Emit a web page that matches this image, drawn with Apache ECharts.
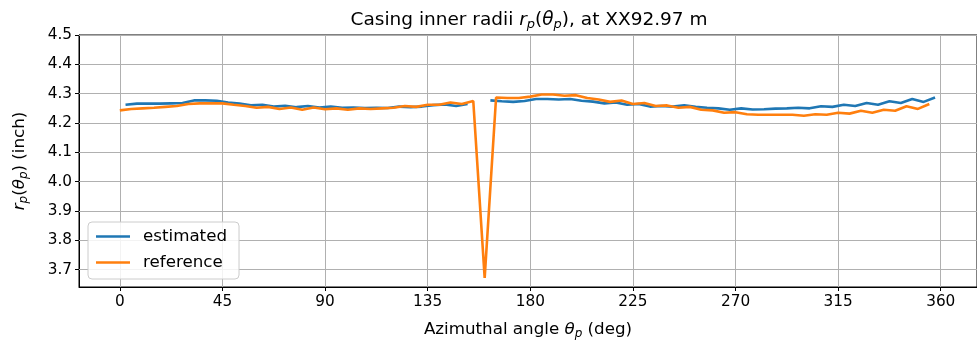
<!DOCTYPE html>
<html><head><meta charset="utf-8">
<script src="https://cdn.jsdelivr.net/npm/echarts@6/dist/echarts.min.js"></script>
<style>html,body{margin:0;padding:0;background:#fff}#c{width:977px;height:347px}</style>
</head><body><div id="c"></div>
<script>
const estAngles = [];
for (let a = 2.5; a < 360; a += 5) estAngles.push(a);
const refAngles = [];
for (let a = 0; a < 360; a += 5) refAngles.push(a);
const estimated = [
4.262,4.266,4.266,4.266,4.267,4.268,4.277,4.277,4.276,4.270,
4.266,4.260,4.262,4.256,4.259,4.254,4.258,4.253,4.256,4.252,
4.253,4.251,4.252,4.251,4.256,4.254,4.256,4.261,4.263,4.258,
4.265,null,4.277,4.274,4.272,4.275,4.282,4.282,4.280,4.282,
4.276,4.273,4.267,4.270,4.262,4.265,4.256,4.258,4.256,4.260,
4.255,4.252,4.250,4.245,4.250,4.246,4.247,4.249,4.250,4.252,
4.250,4.257,4.255,4.262,4.258,4.268,4.262,4.274,4.268,4.282,
4.272,4.287
];
const reference = [
4.243,4.248,4.250,4.252,4.255,4.258,4.265,4.267,4.267,4.267,
4.262,4.258,4.252,4.255,4.248,4.253,4.245,4.253,4.247,4.250,
4.245,4.250,4.248,4.250,4.252,4.258,4.255,4.262,4.262,4.270,
4.265,4.275,3.672,4.287,4.285,4.285,4.290,4.297,4.297,4.293,
4.295,4.285,4.280,4.272,4.277,4.265,4.268,4.258,4.260,4.252,
4.255,4.245,4.243,4.235,4.237,4.230,4.228,4.228,4.228,4.228,
4.225,4.230,4.228,4.235,4.232,4.242,4.235,4.245,4.242,4.257,
4.248,4.265
];
const xTicks = [0,45,90,135,180,225,270,315,360];
const yTicks = [3.7,3.8,3.9,4.0,4.1,4.2,4.3,4.4,4.5];

const estData = estAngles.map((a,i)=>[a, estimated[i]]);
const refData = refAngles.map((a,i)=>[a, reference[i]]);

const F = 'DejaVu Sans';
const richName = (fs)=>({
  n:{fontFamily:F,fontSize:fs,fontWeight:'normal',color:'#000'},
  i:{fontFamily:F,fontSize:fs,fontStyle:'italic',fontWeight:'normal',color:'#000'},
  s:{fontFamily:F,fontSize:Math.round(fs*0.7),fontStyle:'italic',fontWeight:'normal',color:'#000',verticalAlign:'bottom',padding:[Math.round(fs*0.45),0,0,0]}
});
const chart = echarts.init(document.getElementById('c'), null, {renderer:'canvas'});
chart.setOption({
  animation:false,
  backgroundColor:'#fff',
  title:{
    left: 524, top: 5, textAlign:'center',
    text:'{n|Casing inner radii }{i|r}{s|p}{n|(}{i|θ}{s|p}{n|), at XX92.97 m}',
    textStyle:{fontWeight:'normal', rich:richName(18.5)}
  },
  grid:{left:79, top:35, width:910, height:252, show:true, borderColor:'#000', borderWidth:1, containLabel:false},
  legend:{
    z:50, zlevel:1,
    left:88, top:222, orient:'vertical', itemWidth:34, itemHeight:2.5, itemGap:9,
    padding:[6,12,8,8], borderColor:'#cccccc', borderWidth:1, borderRadius:4,
    backgroundColor:'rgba(255,255,255,0.85)',
    icon:'rect',
    textStyle:{fontFamily:F,fontSize:16.7,color:'#000',padding:[0,0,0,8]},
    data:['estimated','reference']
  },
  xAxis:{
    type:'value', min:-17.9, max:375.9,
    name:'{n|Azimuthal angle }{i|θ}{s|p}{n| (deg)}', nameLocation:'middle', nameGap:33,
    nameTextStyle:{rich:richName(16.7)},
    axisLine:{show:true,onZero:false,lineStyle:{color:'#000',width:1}},
    axisTick:{show:true,length:4,lineStyle:{color:'#000'},customValues:xTicks},
    axisLabel:{fontFamily:F,fontSize:15.3,color:'#000',margin:8,customValues:xTicks},
    splitLine:{show:false}
  },
  yAxis:{
    type:'value', min:3.641, max:4.5,
    name:'{i|r}{s|p}{n|(}{i|θ}{s|p}{n|) (inch)}', nameLocation:'middle', nameGap:49, nameRotate:90,
    nameTextStyle:{rich:richName(16.7)},
    axisLine:{show:true,onZero:false,lineStyle:{color:'#000',width:1}},
    axisTick:{show:true,length:4,lineStyle:{color:'#000'},customValues:yTicks},
    axisLabel:{fontFamily:F,fontSize:15.3,color:'#000',margin:7,customValues:yTicks,formatter:v=>v.toFixed(1)},
    splitLine:{show:false}
  },
  series:[
    {name:'estimated', type:'line', data:estData, showSymbol:false, connectNulls:false,
     lineStyle:{color:'#1f77b4',width:2.6}, itemStyle:{color:'#1f77b4'}, z:3,
     markLine:{silent:true, symbol:'none', label:{show:false}, animation:false, z:1,
       lineStyle:{color:'#b0b0b0',width:1,type:'solid'},
       data: yTicks.map(v=>({yAxis:v})).concat(xTicks.map(v=>({xAxis:v})))}},
    {name:'reference', type:'line', data:refData, showSymbol:false,
     lineStyle:{color:'#ff7f0e',width:2.6}, itemStyle:{color:'#ff7f0e'}, z:4}
  ]
});
</script></body></html>
